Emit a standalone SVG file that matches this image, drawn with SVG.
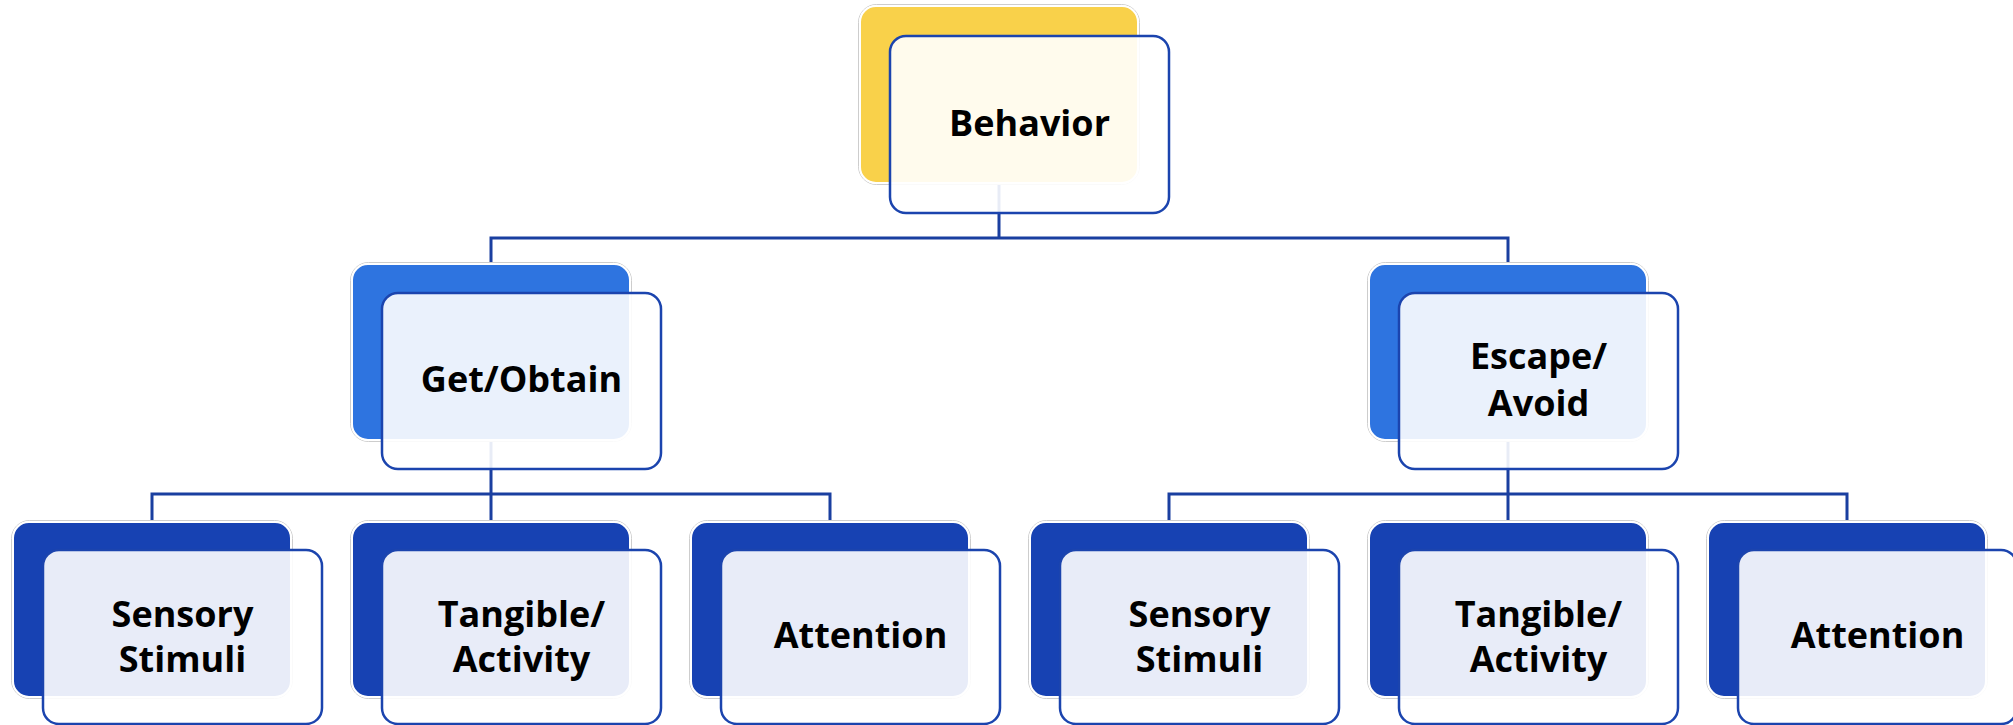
<svg xmlns="http://www.w3.org/2000/svg" width="2013" height="725" viewBox="0 0 2013 725">
<style>
.halo{fill:none;stroke:#cdcdcd;stroke-width:1}
.back{stroke:#ffffff;stroke-width:2}
.y{fill:#F9D14A}
.b1{fill:#2E74E0}
.b2{fill:#1742B3}
.front{fill:#ffffff;fill-opacity:0.9;stroke:#1B44AE;stroke-width:2.5}
.conn{fill:none;stroke:#1A3FA0;stroke-width:3}
text{font-family:"Open Sans","Liberation Sans",sans-serif;font-weight:700;font-size:36px;fill:#000;text-anchor:middle}
</style>
<g id="connectors">
<path class="conn" d="M491,264 V238 H1508 V264 M999,183 V238"/>
<path class="conn" d="M491,440 V494 M152,522 V494 H830 V522 M491,494 V522"/>
<path class="conn" d="M1508,440 V494 M1169,522 V494 H1847 V522 M1508,494 V522"/>
</g>
<g id="behavior">
<rect class="halo" x="858.5" y="4.5" width="281" height="180" rx="18"/>
<rect class="back y" x="860" y="6" width="278" height="177" rx="16"/>
<rect class="front" x="890" y="36" width="279" height="177" rx="16"/>
<text x="1029.5" y="136">Behavior</text>
</g>
<g id="get-obtain">
<rect class="halo" x="350.5" y="262.5" width="281" height="179" rx="18"/>
<rect class="back b1" x="352" y="264" width="278" height="176" rx="16"/>
<rect class="front" x="382" y="293" width="279" height="176" rx="16"/>
<text x="521.5" y="392">Get/Obtain</text>
</g>
<g id="escape-avoid">
<rect class="halo" x="1367.5" y="262.5" width="281" height="179" rx="18"/>
<rect class="back b1" x="1369" y="264" width="278" height="176" rx="16"/>
<rect class="front" x="1399" y="293" width="279" height="176" rx="16"/>
<text x="1538.5" y="369">Escape/</text>
<text x="1538.5" y="416">Avoid</text>
</g>
<g id="get-sensory">
<rect class="halo" x="11.5" y="520.5" width="281" height="178" rx="18"/>
<rect class="back b2" x="13" y="522" width="278" height="175" rx="16"/>
<rect class="front" x="43" y="550" width="279" height="174" rx="16"/>
<text x="182.5" y="627">Sensory</text>
<text x="182.5" y="672">Stimuli</text>
</g>
<g id="get-tangible">
<rect class="halo" x="350.5" y="520.5" width="281" height="178" rx="18"/>
<rect class="back b2" x="352" y="522" width="278" height="175" rx="16"/>
<rect class="front" x="382" y="550" width="279" height="174" rx="16"/>
<text x="521.5" y="627">Tangible/</text>
<text x="521.5" y="672">Activity</text>
</g>
<g id="get-attention">
<rect class="halo" x="689.5" y="520.5" width="281" height="178" rx="18"/>
<rect class="back b2" x="691" y="522" width="278" height="175" rx="16"/>
<rect class="front" x="721" y="550" width="279" height="174" rx="16"/>
<text x="860.5" y="648">Attention</text>
</g>
<g id="escape-sensory">
<rect class="halo" x="1028.5" y="520.5" width="281" height="178" rx="18"/>
<rect class="back b2" x="1030" y="522" width="278" height="175" rx="16"/>
<rect class="front" x="1060" y="550" width="279" height="174" rx="16"/>
<text x="1199.5" y="627">Sensory</text>
<text x="1199.5" y="672">Stimuli</text>
</g>
<g id="escape-tangible">
<rect class="halo" x="1367.5" y="520.5" width="281" height="178" rx="18"/>
<rect class="back b2" x="1369" y="522" width="278" height="175" rx="16"/>
<rect class="front" x="1399" y="550" width="279" height="174" rx="16"/>
<text x="1538.5" y="627">Tangible/</text>
<text x="1538.5" y="672">Activity</text>
</g>
<g id="escape-attention">
<rect class="halo" x="1706.5" y="520.5" width="281" height="178" rx="18"/>
<rect class="back b2" x="1708" y="522" width="278" height="175" rx="16"/>
<rect class="front" x="1738" y="550" width="279" height="174" rx="16"/>
<text x="1877.5" y="648">Attention</text>
</g>
</svg>
